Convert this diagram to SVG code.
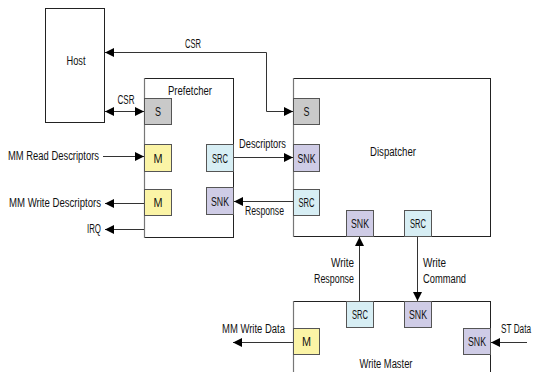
<svg xmlns="http://www.w3.org/2000/svg" width="534" height="372" viewBox="0 0 534 372">
<defs>
<marker id="ah" markerUnits="userSpaceOnUse" markerWidth="9" markerHeight="9" refX="8" refY="4" orient="auto-start-reverse" viewBox="0 0 8 8">
<path d="M0,0 L8,4 L0,8 z" fill="#000"/>
</marker>
<style>
text{font-family:"Liberation Sans",Arial,sans-serif;font-size:12px;fill:#111}
.blk{fill:#fff;stroke:#222;stroke-width:1}
.lft{stroke:#777;stroke-width:1.2}
.s{fill:#c9c9c9;stroke:#555;stroke-width:1}
.m{fill:#fbf4a6;stroke:#555;stroke-width:1}
.src{fill:#d7eef4;stroke:#555;stroke-width:1}
.snk{fill:#cfcce6;stroke:#555;stroke-width:1}
.c{text-anchor:middle}
.e{text-anchor:end}
.ln{fill:none;stroke:#333;stroke-width:1}
.ar{marker-end:url(#ah)}
.ar2{marker-start:url(#ah);marker-end:url(#ah)}
</style>
</defs>
<g id="host">
<rect class="blk" x="45.5" y="8.5" width="59" height="114"/>
<text class="c" x="76" y="65" textLength="19" lengthAdjust="spacingAndGlyphs">Host</text>
</g>
<g id="prefetcher">
<rect class="blk" x="144.5" y="78.5" width="89" height="159"/>
<line class="lft" x1="144.5" y1="78" x2="144.5" y2="238"/>
<text class="c" x="190" y="95" textLength="44" lengthAdjust="spacingAndGlyphs">Prefetcher</text>
</g>
<g id="prefetcher-s">
<rect class="s" x="144.5" y="98.5" width="27" height="26"/>
<text class="c" x="158" y="116" textLength="6" lengthAdjust="spacingAndGlyphs">S</text>
</g>
<g id="prefetcher-m-read">
<rect class="m" x="144.5" y="144.5" width="27" height="27"/>
<text class="c" x="158" y="162.5" textLength="9" lengthAdjust="spacingAndGlyphs">M</text>
</g>
<g id="prefetcher-m-write">
<rect class="m" x="144.5" y="189.5" width="27" height="26"/>
<text class="c" x="158" y="207" textLength="9" lengthAdjust="spacingAndGlyphs">M</text>
</g>
<g id="prefetcher-src">
<rect class="src" x="206.5" y="144.5" width="27" height="27"/>
<text class="c" x="220" y="162.5" textLength="16" lengthAdjust="spacingAndGlyphs">SRC</text>
</g>
<g id="prefetcher-snk">
<rect class="snk" x="206.5" y="187.5" width="27" height="27"/>
<text class="c" x="220" y="205.5" textLength="18" lengthAdjust="spacingAndGlyphs">SNK</text>
</g>
<g id="dispatcher">
<rect class="blk" x="293.5" y="78.5" width="197" height="158"/>
<line class="lft" x1="293.5" y1="78" x2="293.5" y2="237"/>
<text class="c" x="393" y="156" textLength="46" lengthAdjust="spacingAndGlyphs">Dispatcher</text>
</g>
<g id="dispatcher-s">
<rect class="s" x="293.5" y="98.5" width="26" height="26"/>
<text class="c" x="306.5" y="116" textLength="6" lengthAdjust="spacingAndGlyphs">S</text>
</g>
<g id="dispatcher-snk">
<rect class="snk" x="293.5" y="144.5" width="26" height="27"/>
<text class="c" x="306.5" y="162.5" textLength="18" lengthAdjust="spacingAndGlyphs">SNK</text>
</g>
<g id="dispatcher-src">
<rect class="src" x="293.5" y="189.5" width="26" height="26"/>
<text class="c" x="306.5" y="207" textLength="16" lengthAdjust="spacingAndGlyphs">SRC</text>
</g>
<g id="dispatcher-snk-bottom">
<rect class="snk" x="346.5" y="210.5" width="27" height="26"/>
<text class="c" x="360" y="228" textLength="18" lengthAdjust="spacingAndGlyphs">SNK</text>
</g>
<g id="dispatcher-src-bottom">
<rect class="src" x="404.5" y="210.5" width="27" height="26"/>
<text class="c" x="418" y="228" textLength="16" lengthAdjust="spacingAndGlyphs">SRC</text>
</g>
<g id="write-master">
<rect class="blk" x="293.5" y="301.5" width="197" height="80"/>
<line class="lft" x1="293.5" y1="301" x2="293.5" y2="372"/>
<text class="c" x="386" y="368" textLength="53" lengthAdjust="spacingAndGlyphs">Write Master</text>
</g>
<g id="wm-src">
<rect class="src" x="346.5" y="301.5" width="27" height="26"/>
<text class="c" x="360" y="319" textLength="16" lengthAdjust="spacingAndGlyphs">SRC</text>
</g>
<g id="wm-snk-top">
<rect class="snk" x="404.5" y="301.5" width="27" height="26"/>
<text class="c" x="418" y="319" textLength="18" lengthAdjust="spacingAndGlyphs">SNK</text>
</g>
<g id="wm-m">
<rect class="m" x="293.5" y="328.5" width="26" height="26"/>
<text class="c" x="306.5" y="346" textLength="9" lengthAdjust="spacingAndGlyphs">M</text>
</g>
<g id="wm-snk-right">
<rect class="snk" x="463.5" y="328.5" width="27" height="26"/>
<text class="c" x="477" y="346" textLength="18" lengthAdjust="spacingAndGlyphs">SNK</text>
</g>
<g id="connectors">
<path class="ln ar2" d="M105,52.5 H266.5 V111.5 H293"/>
<text class="c" x="193" y="48" textLength="16" lengthAdjust="spacingAndGlyphs">CSR</text>
<path class="ln ar2" d="M105,111.5 H144"/>
<text class="c" x="126" y="104" textLength="17" lengthAdjust="spacingAndGlyphs">CSR</text>
<path class="ln ar" d="M103,156.5 H144"/>
<text class="e" x="99" y="160" textLength="91" lengthAdjust="spacingAndGlyphs">MM Read Descriptors</text>
<path class="ln ar" d="M144,203.5 H105"/>
<text class="e" x="101" y="207" textLength="92" lengthAdjust="spacingAndGlyphs">MM Write Descriptors</text>
<path class="ln ar" d="M144,229.5 H105"/>
<text class="e" x="101" y="233" textLength="14" lengthAdjust="spacingAndGlyphs">IRQ</text>
<path class="ln ar" d="M234,157.5 H293"/>
<text class="c" x="262.5" y="148" textLength="47" lengthAdjust="spacingAndGlyphs">Descriptors</text>
<path class="ln ar" d="M293,201.5 H234"/>
<text class="c" x="264.5" y="215" textLength="39" lengthAdjust="spacingAndGlyphs">Response</text>
<path class="ln ar" d="M359.5,301 V237"/>
<text class="e" x="354" y="267" textLength="23" lengthAdjust="spacingAndGlyphs">Write</text>
<text class="e" x="354" y="283" textLength="40" lengthAdjust="spacingAndGlyphs">Response</text>
<path class="ln ar" d="M417.5,237 V301"/>
<text x="423" y="267" textLength="23" lengthAdjust="spacingAndGlyphs">Write</text>
<text x="423" y="283" textLength="43" lengthAdjust="spacingAndGlyphs">Command</text>
<path class="ln ar" d="M293,342.5 H233"/>
<text class="e" x="285" y="333" textLength="63" lengthAdjust="spacingAndGlyphs">MM Write Data</text>
<path class="ln ar" d="M527,342.5 H491"/>
<text x="501" y="333" textLength="30" lengthAdjust="spacingAndGlyphs">ST Data</text>
</g>
</svg>
